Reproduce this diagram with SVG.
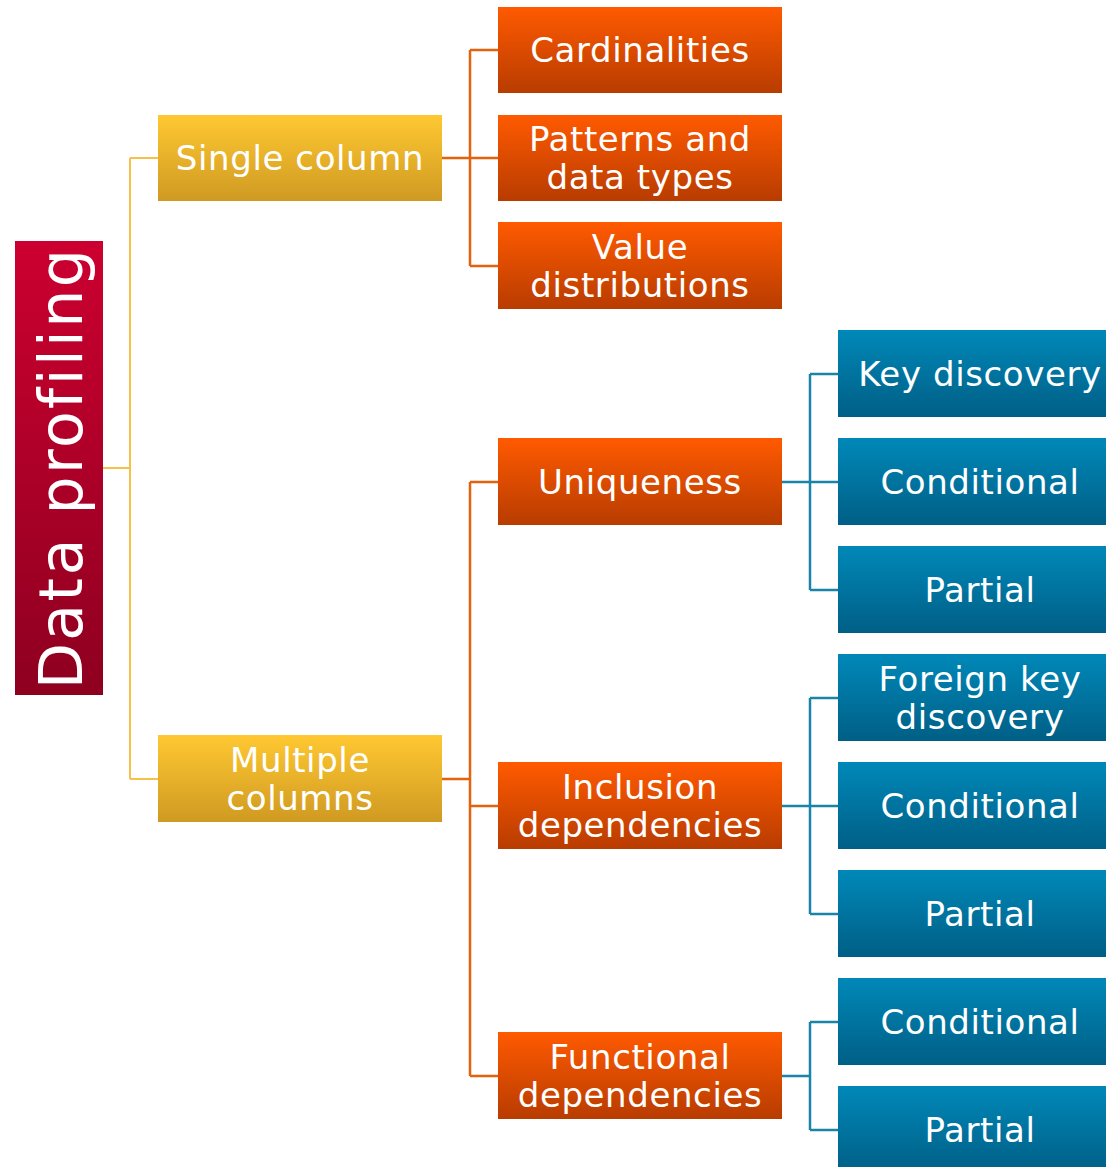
<svg xmlns="http://www.w3.org/2000/svg" width="1106" height="1167" viewBox="0 0 1106 1167">
<defs>
<linearGradient id="gRed" x1="0" y1="0" x2="0" y2="1"><stop offset="0" stop-color="#cc0030"/><stop offset="1" stop-color="#8e0020"/></linearGradient>
<linearGradient id="gYel" x1="0" y1="0" x2="0" y2="1"><stop offset="0" stop-color="#ffc832"/><stop offset="1" stop-color="#cf9a22"/></linearGradient>
<linearGradient id="gOra" x1="0" y1="0" x2="0" y2="1"><stop offset="0" stop-color="#ff5a00"/><stop offset="1" stop-color="#b83c00"/></linearGradient>
<linearGradient id="gBlu" x1="0" y1="0" x2="0" y2="1"><stop offset="0" stop-color="#0088b8"/><stop offset="1" stop-color="#005f86"/></linearGradient>
</defs>
<style>
text{font-family:"DejaVu Sans","Noto Sans",sans-serif;fill:#ffffff;text-anchor:middle;font-size:34px;letter-spacing:0.6px}
.red{fill:url(#gRed)}.yel{fill:url(#gYel)}.ora{fill:url(#gOra)}.blu{fill:url(#gBlu)}
.cy{stroke:#f8c048;stroke-width:2;fill:none}
.co{stroke:#e2620e;stroke-width:2.5;fill:none}
.cb{stroke:#1a84a8;stroke-width:2.5;fill:none}
</style>
<rect width="1106" height="1167" fill="#ffffff"/>
<g id="connectors">
<path class="cy" d="M103,468H130M130,158V779M130,158H158M130,779H158"/>
<path class="co" d="M442,158H470M470,50V266M470,50H498M470,158H498M470,266H498"/>
<path class="co" d="M442,779H470M470,482V1076M470,482H498M470,806H498M470,1076H498"/>
<path class="cb" d="M782,482H810M810,374V590M810,374H838M810,482H838M810,590H838"/>
<path class="cb" d="M782,806H810M810,698V914M810,698H838M810,806H838M810,914H838"/>
<path class="cb" d="M782,1076H810M810,1022V1130M810,1022H838M810,1130H838"/>
</g>
<g id="data-profiling"><rect class="red" x="15" y="241" width="88" height="454"/><text transform="translate(82,468) rotate(-90)" style="font-size:60px;letter-spacing:2.5px">Data profiling</text></g>
<g id="single-column"><rect class="yel" x="158" y="115" width="284" height="86"/><text x="300" y="170">Single column</text></g>
<g id="multiple-columns"><rect class="yel" x="158" y="735" width="284" height="87"/><text x="300" y="772">Multiple</text><text x="300" y="810">columns</text></g>
<g id="cardinalities"><rect class="ora" x="498" y="7" width="284" height="86"/><text x="640" y="62">Cardinalities</text></g>
<g id="patterns"><rect class="ora" x="498" y="115" width="284" height="86"/><text x="640" y="151">Patterns and</text><text x="640" y="189">data types</text></g>
<g id="value-distributions"><rect class="ora" x="498" y="222" width="284" height="87"/><text x="640" y="259">Value</text><text x="640" y="297">distributions</text></g>
<g id="uniqueness"><rect class="ora" x="498" y="438" width="284" height="87"/><text x="640" y="494">Uniqueness</text></g>
<g id="inclusion"><rect class="ora" x="498" y="762" width="284" height="87"/><text x="640" y="799">Inclusion</text><text x="640" y="837">dependencies</text></g>
<g id="functional"><rect class="ora" x="498" y="1032" width="284" height="87"/><text x="640" y="1069">Functional</text><text x="640" y="1107">dependencies</text></g>
<g id="key-discovery"><rect class="blu" x="838" y="330" width="280" height="87"/><text x="980" y="386">Key discovery</text></g>
<g id="u-conditional"><rect class="blu" x="838" y="438" width="280" height="87"/><text x="980" y="494">Conditional</text></g>
<g id="u-partial"><rect class="blu" x="838" y="546" width="280" height="87"/><text x="980" y="602">Partial</text></g>
<g id="foreign-key"><rect class="blu" x="838" y="654" width="280" height="87"/><text x="980" y="691">Foreign key</text><text x="980" y="729">discovery</text></g>
<g id="i-conditional"><rect class="blu" x="838" y="762" width="280" height="87"/><text x="980" y="818">Conditional</text></g>
<g id="i-partial"><rect class="blu" x="838" y="870" width="280" height="87"/><text x="980" y="926">Partial</text></g>
<g id="f-conditional"><rect class="blu" x="838" y="978" width="280" height="87"/><text x="980" y="1034">Conditional</text></g>
<g id="f-partial"><rect class="blu" x="838" y="1086" width="280" height="87"/><text x="980" y="1142">Partial</text></g>
</svg>
